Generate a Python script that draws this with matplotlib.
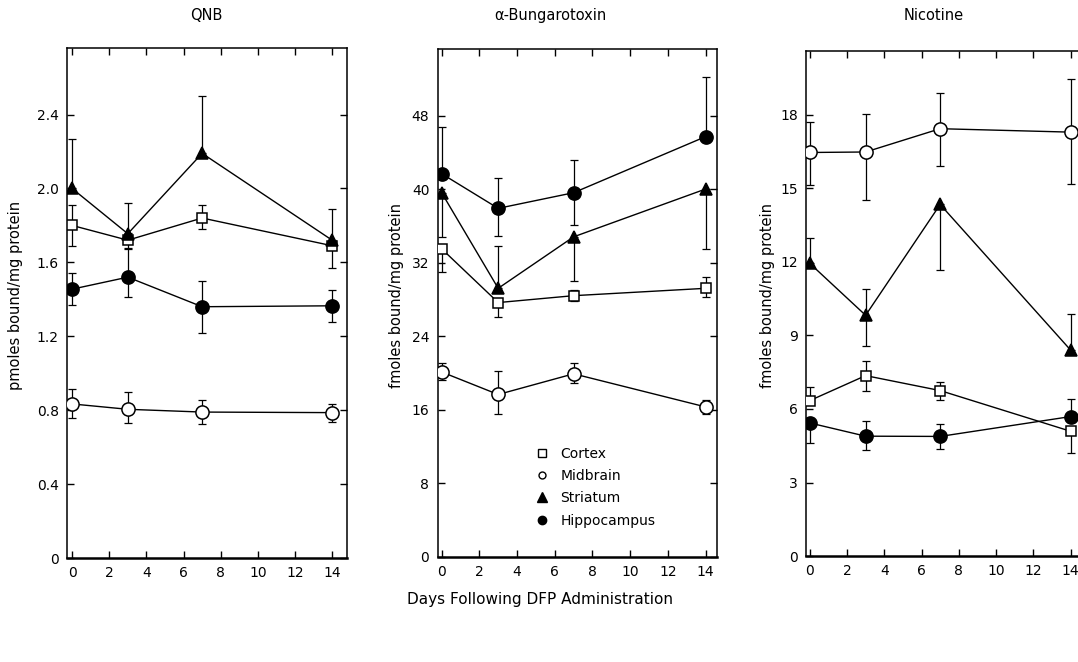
# Receptor binding after DFP, three panels
import numpy as np
import matplotlib.pyplot as plt
from matplotlib.lines import Line2D

plt.rcParams['font.family'] = ['DejaVu Sans']

days = [0, 3, 7, 14]
regions = ['Cortex', 'Midbrain', 'Striatum', 'Hippocampus']
titles = ['QNB', 'α-Bungarotoxin', 'Nicotine']

# QNB (pmoles bound/mg protein): mean, error up, error down
qnb_cortex = [1.80, 1.72, 1.84, 1.69]
qnb_cortex_up = [0.11, 0.04, 0.07, 0.0]
qnb_cortex_dn = [0.11, 0.04, 0.06, 0.12]
qnb_midbrain = [0.834, 0.805, 0.79, 0.787]
qnb_midbrain_up = [0.08, 0.095, 0.066, 0.047]
qnb_midbrain_dn = [0.077, 0.075, 0.064, 0.05]
qnb_striatum = [2.00, 1.755, 2.19, 1.72]
qnb_striatum_up = [0.27, 0.165, 0.31, 0.17]
qnb_striatum_dn = [0.0, 0.0, 0.0, 0.0]
qnb_hippo = [1.455, 1.52, 1.36, 1.365]
qnb_hippo_up = [0.085, 0.15, 0.14, 0.085]
qnb_hippo_dn = [0.085, 0.11, 0.14, 0.085]

# alpha-bungarotoxin (fmoles bound/mg protein)
bgt_cortex = [33.5, 27.65, 28.4, 29.2]
bgt_cortex_up = [0.0, 0.0, 0.6, 1.2]
bgt_cortex_dn = [2.5, 1.55, 0.6, 0.9]
bgt_midbrain = [20.1, 17.65, 19.9, 16.3]
bgt_midbrain_up = [1.0, 2.55, 1.2, 0.8]
bgt_midbrain_dn = [0.9, 2.15, 1.05, 0.8]
bgt_striatum = [39.6, 29.2, 34.8, 40.0]
bgt_striatum_up = [0.0, 4.6, 0.0, 0.0]
bgt_striatum_dn = [4.8, 0.0, 4.8, 6.5]
bgt_hippo = [41.67, 37.9, 39.6, 45.7]
bgt_hippo_up = [5.1, 3.3, 3.6, 6.5]
bgt_hippo_dn = [0.0, 3.0, 3.55, 0.0]

# nicotine (fmoles bound/mg protein)
nic_cortex = [6.34, 7.36, 6.75, 5.09]
nic_cortex_up = [0.57, 0.61, 0.36, 0.0]
nic_cortex_dn = [0.0, 0.61, 0.38, 0.89]
nic_midbrain = [16.46, 16.48, 17.43, 17.29]
nic_midbrain_up = [1.26, 1.56, 1.47, 2.17]
nic_midbrain_dn = [1.34, 1.97, 1.53, 2.12]
nic_striatum = [11.94, 9.82, 14.34, 8.40]
nic_striatum_up = [1.04, 1.06, 0.0, 1.49]
nic_striatum_dn = [0.0, 1.24, 2.67, 0.0]
nic_hippo = [5.43, 4.89, 4.88, 5.69]
nic_hippo_up = [0.0, 0.6, 0.51, 0.72]
nic_hippo_dn = [0.83, 0.58, 0.5, 0.0]

panels = [
    [(qnb_cortex, qnb_cortex_up, qnb_cortex_dn),
     (qnb_midbrain, qnb_midbrain_up, qnb_midbrain_dn),
     (qnb_striatum, qnb_striatum_up, qnb_striatum_dn),
     (qnb_hippo, qnb_hippo_up, qnb_hippo_dn)],
    [(bgt_cortex, bgt_cortex_up, bgt_cortex_dn),
     (bgt_midbrain, bgt_midbrain_up, bgt_midbrain_dn),
     (bgt_striatum, bgt_striatum_up, bgt_striatum_dn),
     (bgt_hippo, bgt_hippo_up, bgt_hippo_dn)],
    [(nic_cortex, nic_cortex_up, nic_cortex_dn),
     (nic_midbrain, nic_midbrain_up, nic_midbrain_dn),
     (nic_striatum, nic_striatum_up, nic_striatum_dn),
     (nic_hippo, nic_hippo_up, nic_hippo_dn)],
]

y_ticks = [[0, 0.4, 0.8, 1.2, 1.6, 2.0, 2.4],
           [0, 8, 16, 24, 32, 40, 48],
           [0, 3, 6, 9, 12, 15, 18]]
y_labels = [['0', '0.4', '0.8', '1.2', '1.6', '2.0', '2.4'],
            ['0', '8', '16', '24', '32', '40', '48'],
            ['0', '3', '6', '9', '12', '15', '18']]
y_tops = [2.76, 55.2, 20.6]
x_lims = [(-0.27, 14.8), (-0.21, 14.6), (-0.18, 14.8)]

# marker styles for each region
styles = [dict(marker='s', ms=7, mfc='white'),
          dict(marker='o', ms=9.5, mfc='white'),
          dict(marker='^', ms=8, mfc='black'),
          dict(marker='o', ms=9.5, mfc='black')]

fig = plt.figure(figsize=(10.78, 6.62), dpi=100)
positions = [[0.0622, 0.157, 0.2597, 0.7705],
             [0.406, 0.159, 0.259, 0.7665],
             [0.748, 0.160, 0.259, 0.763]]
title_x = [0.191, 0.511, 0.866]
ylab_x = [0.014, 0.368, 0.712]
ylab_text = ['pmoles bound/mg protein', 'fmoles bound/mg protein',
             'fmoles bound/mg protein']

for i in range(3):
    ax = fig.add_axes(positions[i])
    for (mean, up, dn), st in zip(panels[i], styles):
        ax.errorbar(days, mean, yerr=[dn, up], fmt='none', ecolor='black',
                    elinewidth=0.9, capsize=3, capthick=0.9, zorder=1)
        ax.plot(days, mean, color='black', lw=1.0, mec='black', mew=1.1,
                zorder=3, **st)
    ax.set_xlim(*x_lims[i])
    ax.set_ylim(0, y_tops[i])
    ax.set_xticks(range(0, 16, 2))
    ax.set_yticks(y_ticks[i])
    ax.set_yticklabels(y_labels[i])
    ax.tick_params(direction='in', length=5, width=1, labelsize=10,
                   top=True, right=True, pad=6)
    for s in ax.spines.values():
        s.set_linewidth(1.1)
    ax.spines['bottom'].set_linewidth(1.8)
    fig.text(title_x[i], 0.977, titles[i], ha='center', va='center', fontsize=10.5)
    fig.text(ylab_x[i], 0.553, ylab_text[i], rotation=90, ha='center',
             va='center', fontsize=10.5)
    if i == 1:
        handles = [Line2D([], [], color='black', ls='none', marker='s', ms=6,
                          mfc='white', mew=1),
                   Line2D([], [], color='black', ls='none', marker='o', ms=5,
                          mfc='white', mew=1),
                   Line2D([], [], color='black', ls='none', marker='^', ms=7),
                   Line2D([], [], color='black', ls='none', marker='o', ms=6)]
        ax.legend(handles, regions, loc='upper left', bbox_to_anchor=(0.33, 0.228),
                  frameon=False, fontsize=10, handlelength=1, handletextpad=0.8,
                  labelspacing=0.6, borderaxespad=0)

fig.text(0.501, 0.094, 'Days Following DFP Administration', ha='center',
         va='center', fontsize=11)

fig.savefig('out.png', dpi=100)
